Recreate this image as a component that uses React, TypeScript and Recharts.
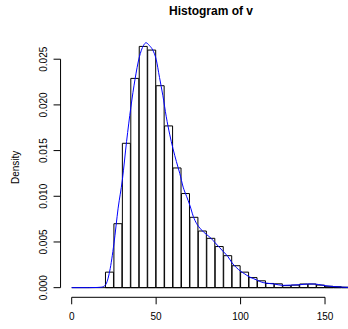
import React from 'react';
import { BarChart, Bar, LineChart, Line, XAxis, YAxis, ReferenceLine } from 'recharts';

// Histogram bins (midpoints, width 5) and their densities
const binMids = [
  2.5, 7.5, 12.5, 17.5, 22.5, 27.5, 32.5, 37.5, 42.5, 47.5, 52.5, 57.5, 62.5, 67.5, 72.5, 77.5,
  82.5, 87.5, 92.5, 97.5, 102.5, 107.5, 112.5, 117.5, 122.5, 127.5, 132.5, 137.5, 142.5, 147.5,
  152.5, 157.5, 162.5,
];
const binDensity = [
  0, 0, 0, 0, 0.0017, 0.007, 0.0158, 0.0229, 0.0264, 0.026, 0.0221, 0.0177, 0.0131, 0.0103, 0.0077,
  0.0062, 0.0054, 0.0045, 0.0035, 0.0024, 0.0017, 0.0011, 0.00075, 0.00046, 0.00042, 0.00022,
  0.00028, 0.0004, 0.0004, 0.00028, 0.00015, 0.0001, 0.00005,
];

// Kernel density curve
const curveX = [
  0, 5, 10, 15, 17.5, 20, 22.5, 25, 27.5, 30, 32.5, 35, 37.5, 40, 42.5, 44, 46, 48, 50, 52, 54, 56,
  58, 60, 62, 64, 66, 68, 70, 72, 74, 76, 78, 80, 82.5, 85, 87.5, 90, 92.5, 95, 97.5, 100, 102.5,
  105, 107.5, 110, 112.5, 115, 120, 125, 130, 135, 140, 143, 146, 150, 155, 160, 164, 170,
];
const curveY = [
  0, 0, 0, 0.00002, 0.00005, 0.0003, 0.0018, 0.0048, 0.0087, 0.0118, 0.016, 0.0197, 0.0228, 0.0252,
  0.0265, 0.0268, 0.0265, 0.026, 0.025, 0.023, 0.021, 0.0187, 0.0168, 0.0152, 0.0138, 0.0125, 0.011,
  0.01, 0.009, 0.0078, 0.007, 0.0065, 0.0061, 0.0058, 0.0054, 0.0049, 0.0044, 0.0039, 0.0034,
  0.0027, 0.0022, 0.0018, 0.0015, 0.0012, 0.001, 0.0008, 0.0006, 0.0005, 0.0004, 0.00025, 0.00028,
  0.00032, 0.0004, 0.0004, 0.00035, 0.00022, 0.00012, 0.00006, 0.00002, 0,
];

const xTicks = [0, 50, 100, 150];
const yTicks = [0, 0.005, 0.01, 0.015, 0.02, 0.025];
const xDomain = [-6.6, 171.6];
const yDomain = [-0.001055, 0.02742];
const breaksRange = [0, 165];

const title = 'Histogram of v';
const yLabel = 'Density';

const bars = binMids.map((x, i) => ({ x, density: binDensity[i] }));
const curve = curveX.map((x, i) => ({ x, y: curveY[i] }));

const W = 370;
const H = 329;
const TOP = 37.1;
const RIGHT = 8.5;
const LEFT = 60.55;
const BOTTOM = 31.7;
const FONT = '"Liberation Sans", Arial, Helvetica, sans-serif';

const YTick = (props: any) => {
  const { x, y, payload } = props;
  return (
    <text
      transform={`translate(${x},${y}) rotate(-90)`}
      textAnchor="middle"
      fontSize={10}
      fontFamily={FONT}
      fill="#000"
    >
      {Number(payload.value).toFixed(3)}
    </text>
  );
};

export default function App() {
  return (
    <div style={{ position: 'absolute', left: 0, top: 0, width: 348, height: 329, overflow: 'hidden', background: '#fff' }}>
      <div style={{ position: 'absolute', left: 0, top: 0 }}>
        <BarChart
          width={W}
          height={H}
          data={bars}
          margin={{ top: TOP, right: RIGHT, bottom: 0, left: 0 }}
          barCategoryGap={0}
          barGap={0}
          style={{ fontFamily: FONT }}
        >
          <XAxis
            type="number"
            dataKey="x"
            domain={xDomain}
            allowDataOverflow
            ticks={xTicks}
            height={BOTTOM}
            axisLine={false}
            tickLine={{ stroke: '#000' }}
            tickSize={7}
            tickMargin={9}
            tick={{ fill: '#000', fontSize: 10, fontFamily: FONT }}
            interval={0}
          />
          <YAxis
            type="number"
            domain={yDomain}
            allowDataOverflow
            ticks={yTicks}
            width={LEFT}
            axisLine={false}
            tickLine={{ stroke: '#000' }}
            tickSize={7}
            tickMargin={7}
            tick={<YTick />}
            interval={0}
          />
          <Bar dataKey="density" fill="#ffffff" stroke="#000000" strokeWidth={1} isAnimationActive={false} />
          <ReferenceLine
            segment={[{ x: breaksRange[0], y: 0 }, { x: breaksRange[1], y: 0 }]}
            stroke="#000"
            strokeWidth={1}
            ifOverflow="visible"
          />
          <ReferenceLine
            segment={[{ x: xDomain[0], y: yTicks[0] }, { x: xDomain[0], y: yTicks[yTicks.length - 1] }]}
            stroke="#000"
            strokeWidth={1}
            ifOverflow="visible"
          />
          <ReferenceLine
            segment={[{ x: xTicks[0], y: yDomain[0] }, { x: xTicks[xTicks.length - 1], y: yDomain[0] }]}
            stroke="#000"
            strokeWidth={1}
            ifOverflow="visible"
          />
        </BarChart>
      </div>
      <div style={{ position: 'absolute', left: 0, top: 0 }}>
        <LineChart
          width={W}
          height={H}
          data={curve}
          margin={{ top: TOP, right: RIGHT, bottom: BOTTOM, left: LEFT }}
          style={{ fontFamily: FONT }}
        >
          <XAxis type="number" dataKey="x" domain={xDomain} allowDataOverflow hide />
          <YAxis type="number" domain={yDomain} allowDataOverflow hide />
          <Line
            dataKey="y"
            type="monotone"
            stroke="#0000ff"
            strokeWidth={1}
            dot={false}
            isAnimationActive={false}
          />
          <text x={211} y={15} textAnchor="middle" fontWeight="bold" fontSize={12} fontFamily={FONT} fill="#000">
            {title}
          </text>
          <text
            transform="translate(19,167.3) rotate(-90)"
            textAnchor="middle"
            fontSize={10}
            fontFamily={FONT}
            fill="#000"
          >
            {yLabel}
          </text>
        </LineChart>
      </div>
    </div>
  );
}
